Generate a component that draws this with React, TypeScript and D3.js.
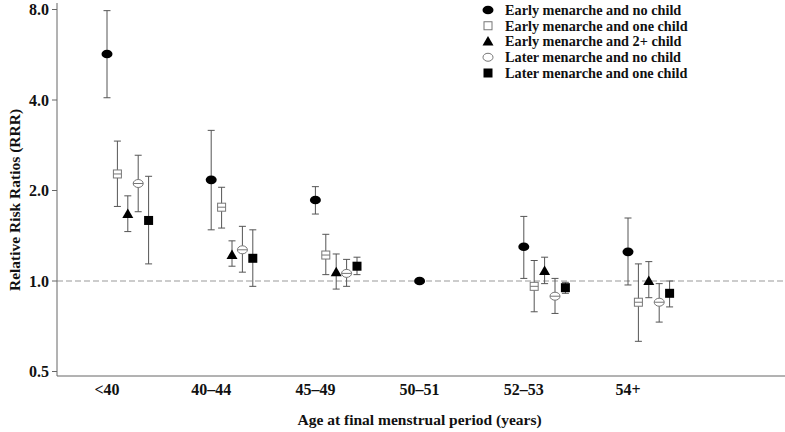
import React from "react";
import * as d3 from "d3";

const categories = ["<40", "40\u201344", "45\u201349", "50\u201351", "52\u201353", "54+"];
const seriesNames = [
  "Early menarche and no child",
  "Early menarche and one child",
  "Early menarche and 2+ child",
  "Later menarche and no child",
  "Later menarche and one child",
];
const seriesShapes = ["filledCircle", "openSquare", "triangle", "openCircle", "filledSquare"];

// [estimate, lower, upper] per category; null where absent
const earlyNoChild = [[5.69, 4.07, 7.93], [2.17, 1.48, 3.17], [1.86, 1.67, 2.06], [1.0, 1.0, 1.0], [1.3, 1.02, 1.64], [1.25, 0.97, 1.62]];
const earlyOneChild = [[2.27, 1.77, 2.92], [1.76, 1.5, 2.05], [1.22, 1.05, 1.43], null, [0.96, 0.79, 1.17], [0.85, 0.63, 1.14]];
const earlyTwoPlus = [[1.67, 1.46, 1.92], [1.22, 1.12, 1.36], [1.07, 0.94, 1.23], null, [1.08, 0.98, 1.2], [1.0, 0.88, 1.16]];
const laterNoChild = [[2.11, 1.7, 2.62], [1.27, 1.07, 1.52], [1.06, 0.96, 1.18], null, [0.89, 0.78, 1.02], [0.85, 0.73, 0.98]];
const laterOneChild = [[1.59, 1.14, 2.23], [1.19, 0.96, 1.48], [1.12, 1.05, 1.2], null, [0.95, 0.91, 0.99], [0.91, 0.82, 1.0]];
const seriesData = [earlyNoChild, earlyOneChild, earlyTwoPlus, laterNoChild, laterOneChild];

const yTicks = [0.5, 1, 2, 4, 8];

const W = 785;
const H = 432;
const axisX = 57;
const axisBottom = 376;
const axisTop = 3;
const FONT = "'Liberation Serif', 'Times New Roman', serif";
const ERR = "#555";

function Marker({ shape, x, y, legend = false }: { shape: string; x: number; y: number; legend?: boolean }) {
  switch (shape) {
    case "filledCircle":
      return <ellipse cx={x} cy={y} rx={5.5} ry={4.3} fill="#000" />;
    case "openSquare":
      return (
        <g>
          <rect x={x - 4} y={y - 4} width={8} height={8} fill="#fff" stroke="#777" strokeWidth={1} />
          {!legend && <line x1={x - 4} x2={x + 4} y1={y} y2={y} stroke="#777" strokeWidth={1} />}
        </g>
      );
    case "triangle":
      return <path d={`M${x},${y - 5.5}L${x + 5.5},${y + 4}L${x - 5.5},${y + 4}Z`} fill="#000" />;
    case "openCircle":
      return (
        <g>
          <ellipse cx={x} cy={y} rx={5} ry={4} fill="#fff" stroke="#777" strokeWidth={1} />
          {!legend && <line x1={x - 5} x2={x + 5} y1={y} y2={y} stroke="#777" strokeWidth={1} />}
        </g>
      );
    default:
      return <rect x={x - 4.5} y={y - 4.5} width={9} height={9} fill="#000" />;
  }
}

export default function App() {
  const y = d3.scaleLog().base(2).domain([0.5, 8]).range([371.5, 9.5]);
  const xGroup = d3.scaleLinear().domain([0, categories.length - 1]).range([107, 628]);
  const offset = d3.scaleLinear().domain([0, 1]).range([0, 10.4]);
  const legendY = d3.scalePoint().domain(seriesNames).range([10, 73]);
  const fmt = d3.format(".1f");

  return (
    <svg width={W} height={H} style={{ position: "absolute", left: 0, top: 0, background: "#fff" }}>
      <rect width={W} height={H} fill="#fff" />
      <line x1={axisX} x2={W} y1={y(1)} y2={y(1)} stroke="#999" strokeWidth={1.2} strokeDasharray="6,3" />
      <line x1={axisX} x2={axisX} y1={axisTop} y2={axisBottom} stroke="#666" strokeWidth={1} />
      <line x1={axisX} x2={W} y1={axisBottom} y2={axisBottom} stroke="#666" strokeWidth={1} />
      {yTicks.map((t) => (
        <g key={t}>
          <line x1={axisX - 5} x2={axisX} y1={y(t)} y2={y(t)} stroke="#666" />
          <text x={axisX - 8} y={y(t)} dy="0.35em" textAnchor="end" fontFamily={FONT} fontWeight="bold" fontSize={16} fill="#111">
            {fmt(t)}
          </text>
        </g>
      ))}
      {categories.map((c, i) => (
        <text key={c} x={xGroup(i)} y={395} textAnchor="middle" fontFamily={FONT} fontWeight="bold" fontSize={16} fill="#111">
          {c}
        </text>
      ))}
      <text x={xGroup(3)} y={425} textAnchor="middle" fontFamily={FONT} fontWeight="bold" fontSize={15.5} fill="#111">
        Age at final menstrual period (years)
      </text>
      <text transform={`translate(20,${200}) rotate(-90)`} textAnchor="middle" fontFamily={FONT} fontWeight="bold" fontSize={15.5} fill="#111">
        Relative Risk Ratios (RRR)
      </text>
      {seriesData.map((series, s) =>
        series.map((d, i) => {
          if (!d) return null;
          const cx = xGroup(i) + offset(s);
          const [est, lo, hi] = d;
          const hasCI = hi !== lo;
          return (
            <g key={`${s}-${i}`}>
              {hasCI && (
                <g stroke={ERR} strokeWidth={1}>
                  <line x1={cx} x2={cx} y1={y(lo)} y2={y(hi)} />
                  <line x1={cx - 3.5} x2={cx + 3.5} y1={y(lo)} y2={y(lo)} />
                  <line x1={cx - 3.5} x2={cx + 3.5} y1={y(hi)} y2={y(hi)} />
                </g>
              )}
              <Marker shape={seriesShapes[s]} x={cx} y={y(est)} />
            </g>
          );
        })
      )}
      {seriesNames.map((n, s) => (
        <g key={n}>
          <Marker shape={seriesShapes[s]} x={488} y={legendY(n) as number} legend />
          <text x={505} y={legendY(n) as number} dy="0.35em" fontFamily={FONT} fontWeight="bold" fontSize={14.25} fill="#111">
            {n}
          </text>
        </g>
      ))}
    </svg>
  );
}
